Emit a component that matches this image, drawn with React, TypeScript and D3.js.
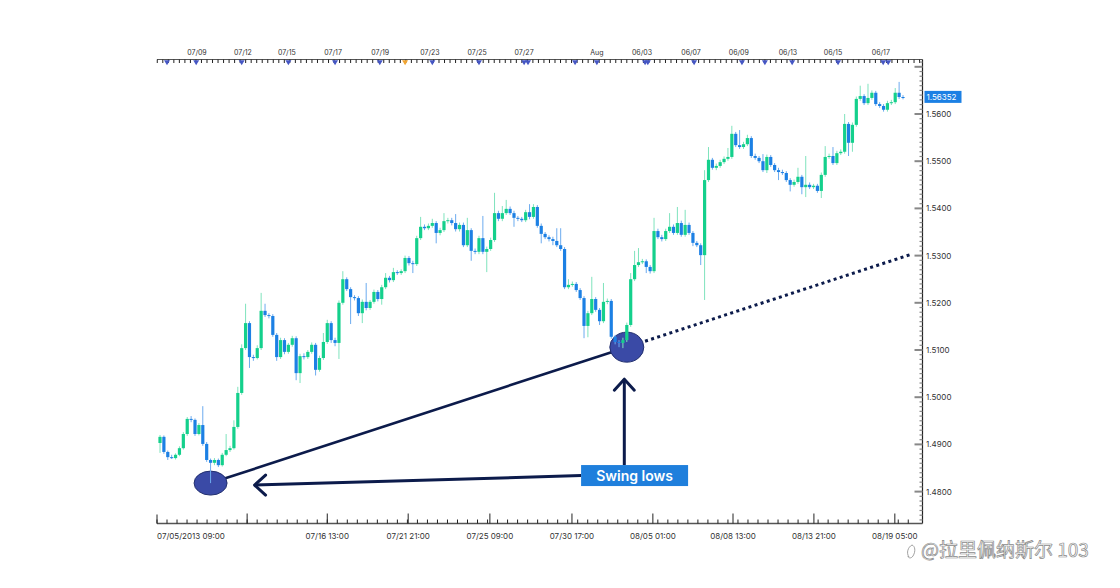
import React from 'react';
import * as d3 from 'd3';

// ---- data ----
const firstOpen = 1.4903;
const closes = [
  1.4916,1.4884,1.4873,1.4871,1.4878,1.4892,1.4922,1.4954,1.4952,1.4922,
  1.4941,1.4901,1.4867,1.4861,1.4867,1.4856,1.4878,1.4888,1.4892,1.4937,
  1.5009,1.5104,1.5157,1.5085,1.5083,1.5104,1.5183,1.5174,1.5172,1.5132,
  1.5085,1.5121,1.5096,1.5111,1.5125,1.5051,1.5087,1.5085,1.5096,1.5111,
  1.5058,1.5083,1.5117,1.5157,1.5121,1.5115,1.5200,1.5250,1.5229,1.5212,
  1.5210,1.5178,1.5202,1.5189,1.5202,1.5223,1.5208,1.5233,1.5253,1.5248,
  1.5265,1.5263,1.5267,1.5295,1.5284,1.5282,1.5337,1.5361,1.5358,1.5363,
  1.5369,1.5348,1.5354,1.5373,1.5375,1.5369,1.5356,1.5365,1.5322,1.5354,
  1.5310,1.5308,1.5337,1.5308,1.5314,1.5333,1.5390,1.5378,1.5390,1.5399,
  1.5390,1.5380,1.5378,1.5375,1.5392,1.5382,1.5403,1.5363,1.5346,1.5339,
  1.5335,1.5331,1.5322,1.5314,1.5233,1.5238,1.5240,1.5227,1.5210,1.5151,
  1.5178,1.5208,1.5185,1.5161,1.5202,1.5204,1.5128,1.5117,1.5115,1.5121,
  1.5153,1.5250,1.5280,1.5286,1.5288,1.5276,1.5267,1.5352,1.5339,1.5335,
  1.5352,1.5361,1.5348,1.5369,1.5344,1.5365,1.5348,1.5327,1.5322,1.5301,
  1.5460,1.5503,1.5486,1.5490,1.5498,1.5505,1.5509,1.5558,1.5534,1.5530,
  1.5536,1.5549,1.5511,1.5507,1.5500,1.5481,1.5509,1.5492,1.5481,1.5477,
  1.5475,1.5460,1.5450,1.5456,1.5467,1.5445,1.5450,1.5445,1.5448,1.5437,
  1.5471,1.5509,1.5511,1.5496,1.5517,1.5520,1.5579,1.5539,1.5577,1.5632,
  1.5638,1.5623,1.5634,1.5645,1.5621,1.5617,1.5609,1.5623,1.5625,1.5645,
  1.5636,1.56352,
];
const highs = [
  1.4920,1.4919,1.4887,1.4878,1.4881,1.4896,1.4926,1.4958,1.4960,1.4955,
  1.4945,1.4981,1.4905,1.4870,1.4871,1.4870,1.4882,1.4922,1.4897,1.4951,
  1.5022,1.5112,1.5198,1.5161,1.5090,1.5110,1.5221,1.5198,1.5178,1.5176,
  1.5136,1.5126,1.5125,1.5115,1.5130,1.5129,1.5092,1.5093,1.5100,1.5116,
  1.5115,1.5088,1.5136,1.5164,1.5161,1.5126,1.5205,1.5267,1.5254,1.5233,
  1.5216,1.5214,1.5207,1.5242,1.5206,1.5228,1.5227,1.5238,1.5263,1.5257,
  1.5274,1.5269,1.5271,1.5300,1.5299,1.5289,1.5342,1.5382,1.5366,1.5368,
  1.5378,1.5373,1.5359,1.5390,1.5380,1.5380,1.5388,1.5370,1.5370,1.5380,
  1.5358,1.5315,1.5342,1.5384,1.5319,1.5338,1.5433,1.5395,1.5405,1.5418,
  1.5404,1.5395,1.5384,1.5382,1.5397,1.5409,1.5409,1.5407,1.5368,1.5350,
  1.5343,1.5340,1.5358,1.5358,1.5318,1.5250,1.5245,1.5244,1.5231,1.5214,
  1.5183,1.5255,1.5212,1.5189,1.5242,1.5209,1.5208,1.5132,1.5121,1.5126,
  1.5158,1.5263,1.5310,1.5316,1.5293,1.5292,1.5280,1.5380,1.5357,1.5344,
  1.5357,1.5390,1.5366,1.5403,1.5374,1.5397,1.5370,1.5352,1.5331,1.5326,
  1.5481,1.5530,1.5507,1.5495,1.5503,1.5510,1.5528,1.5575,1.5562,1.5566,
  1.5541,1.5556,1.5553,1.5516,1.5511,1.5515,1.5514,1.5513,1.5496,1.5486,
  1.5482,1.5479,1.5464,1.5461,1.5486,1.5471,1.5511,1.5455,1.5452,1.5452,
  1.5476,1.5532,1.5516,1.5530,1.5522,1.5525,1.5600,1.5583,1.5582,1.5637,
  1.5660,1.5642,1.5664,1.5650,1.5649,1.5625,1.5621,1.5628,1.5630,1.5655,
  1.5668,1.5640,
];
const lows = [
  1.4882,1.4880,1.4867,1.4869,1.4868,1.4875,1.4889,1.4918,1.4947,1.4918,
  1.4919,1.4897,1.4863,1.4818,1.4856,1.4852,1.4853,1.4875,1.4884,1.4889,
  1.4933,1.5005,1.5100,1.5062,1.5077,1.5080,1.5100,1.5170,1.5167,1.5128,
  1.5077,1.5081,1.5091,1.5092,1.5107,1.5036,1.5030,1.5080,1.5081,1.5092,
  1.5046,1.5054,1.5079,1.5113,1.5115,1.5108,1.5081,1.5196,1.5225,1.5155,
  1.5205,1.5172,1.5157,1.5184,1.5185,1.5198,1.5203,1.5196,1.5229,1.5243,
  1.5244,1.5259,1.5259,1.5263,1.5279,1.5263,1.5278,1.5333,1.5354,1.5354,
  1.5359,1.5326,1.5343,1.5350,1.5368,1.5364,1.5351,1.5351,1.5318,1.5318,
  1.5289,1.5303,1.5303,1.5303,1.5265,1.5310,1.5329,1.5373,1.5373,1.5386,
  1.5386,1.5361,1.5373,1.5371,1.5371,1.5377,1.5378,1.5359,1.5326,1.5335,
  1.5330,1.5322,1.5318,1.5310,1.5229,1.5229,1.5234,1.5223,1.5206,1.5125,
  1.5127,1.5174,1.5181,1.5153,1.5157,1.5197,1.5124,1.5112,1.5106,1.5104,
  1.5117,1.5149,1.5246,1.5276,1.5282,1.5263,1.5262,1.5263,1.5335,1.5330,
  1.5331,1.5348,1.5344,1.5344,1.5340,1.5340,1.5344,1.5320,1.5318,1.5280,
  1.5206,1.5456,1.5482,1.5481,1.5486,1.5494,1.5501,1.5505,1.5530,1.5526,
  1.5526,1.5532,1.5507,1.5503,1.5496,1.5477,1.5475,1.5488,1.5477,1.5460,
  1.5471,1.5456,1.5436,1.5446,1.5452,1.5430,1.5424,1.5441,1.5441,1.5433,
  1.5422,1.5467,1.5505,1.5492,1.5492,1.5513,1.5516,1.5511,1.5520,1.5573,
  1.5628,1.5619,1.5619,1.5630,1.5617,1.5613,1.5605,1.5605,1.5619,1.5621,
  1.5632,1.5631,
];

// top axis labels (positions in candle index units)
const topLabels = ['07/09','07/12','07/15','07/17','07/19','07/23','07/25','07/27','Aug','06/03','06/07','06/09','06/13','06/15','06/17'];
const topLabelPos = [9.5,21.3,32.6,44.5,56.6,69.4,81.5,93.6,112.3,123.9,136.5,148.8,161.4,173,185.3];
// event markers on top axis
const eventPos = [1.8,9.3,21,33,45,56.5,63,70,82,93.6,94.6,106.7,112.3,124.7,125.4,137.3,149.6,155.5,162.5,174.3,185.9,187.2];
const eventKind = ['b','b','b','b','b','b','o','b','b','b','b','b','b','b','b','b','b','b','b','b','b','b'];

// bottom axis
const bottomFirstLabel = '07/05/2013 09:00';
const bottomLabels = ['','07/16 13:00','07/21 21:00','07/25 09:00','07/30 17:00','08/05 01:00','08/08 13:00','08/13 21:00','08/19 05:00'];
const bottomPos = [22.4,43,63.8,84.8,105.9,126.7,147.3,168.1,188.9];

// price axis labels
const priceTicks = [1.48,1.49,1.50,1.51,1.52,1.53,1.54,1.55,1.56];

// swing lows (candle index, price) and trend extension end
const swingIdx = [13, 120];
const swingPrice = [1.4818, 1.5106];
const trendEndIdx = 193.3;
const calloutText = 'Swing lows';
const calloutIdx = 122;
const calloutPrice = 1.4834;

const GREEN = '#14d08c';
const BLUE = '#1c80e4';
const GREEN_W = '#7fe3bd';
const BLUE_W = '#6cabef';
const NAVY = '#0c1b4b';
const AXIS = '#555';
const FONT = 'Inter, "Open Sans", sans-serif';

export default function App() {
  const N = closes.length;
  const x = d3.scaleLinear().domain([0, N - 1]).range([160, 903]);
  const y = d3.scaleLinear().domain([1.48, 1.56]).range([491.6, 114]);
  const axL = 157, axR = 922.5, axT = 59.5, axB = 523.5;

  const candles = closes.map((c, i) => {
    const o = i === 0 ? firstOpen : closes[i - 1];
    const up = c >= o;
    const top = y(Math.max(o, c));
    const bot = y(Math.min(o, c));
    return {
      i, up,
      cx: x(i),
      top, h: Math.max(1, bot - top),
      hy: y(Math.max(highs[i], o, c)),
      ly: y(Math.min(lows[i], o, c)),
    };
  });

  // right axis ticks
  const pMin = y.invert(axB), pMax = y.invert(axT + 2);
  const kStart = Math.ceil(pMin * 1000), kEnd = Math.floor(pMax * 1000);
  const rTicks = d3.range(kStart, kEnd + 1).map(k => ({ k, v: k / 1000 }));

  // top ticks
  const topTicks = d3.range(-0.7, N + 4, 1.42).filter(v => x(v) >= axL && x(v) <= axR - 2);

  // bottom minor ticks
  const step = (bottomPos[1] - bottomPos[0]) / 8;
  const bMinor = d3.range(bottomPos[0] - 9 * step, N + 2, step).filter(v => x(v) >= axL - 1 && x(v) <= axR - 2);

  const fmt = d3.format('.4f');
  const last = closes[N - 1];
  const lastY = y(last);

  const s1x = x(swingIdx[0]), s1y = y(swingPrice[0]);
  const s2x = x(swingIdx[1]), s2y = y(swingPrice[1]);
  const slope = (s2y - s1y) / (s2x - s1x);
  const endX = x(trendEndIdx);
  const endY = s2y + slope * (endX - s2x);

  const cX = x(calloutIdx), cY = y(calloutPrice);
  const boxW = 107, boxH = 21;
  const boxL = cX - boxW / 2;

  // horizontal arrow tip (left) and vertical arrow tip (up)
  const hTipX = s1x + 44, hTipY = s1y + 2;
  const vX = s2x - 2.5, vTipY = s2y + 32;

  return (
    <svg width={1120} height={588} style={{ position: 'fixed', left: 0, top: 0, background: '#fff' }}>
      {/* top axis */}
      <line x1={axL} x2={axR} y1={axT} y2={axT} stroke={AXIS} strokeWidth={1.2} />
      {topTicks.map((v, j) => (
        <line key={'tt' + j} x1={x(v)} x2={x(v)} y1={axT} y2={axT + 3.5} stroke="#222" strokeWidth={1} />
      ))}
      {topLabels.map((t, j) => (
        <text key={'tl' + j} x={x(topLabelPos[j])} y={axT - 5} fontSize={7} fontFamily={FONT} fill="#333" textAnchor="middle">{t}</text>
      ))}
      {eventPos.map((p, j) => (
        <path key={'ev' + j} d="M-3,0 L3,0 L0,5 Z" transform={`translate(${x(p)},${axT + 0.8})`}
          fill={eventKind[j] === 'o' ? '#f2a531' : '#4556c4'} />
      ))}

      {/* right axis */}
      <line x1={axR} x2={axR} y1={axT} y2={axB} stroke="#222" strokeWidth={1.2} />
      {rTicks.map(({ k, v }) => {
        const len = k % 10 === 0 ? 8 : 3;
        return <line key={'rt' + k} x1={axR - len} x2={axR} y1={y(v)} y2={y(v)} stroke="#888" strokeWidth={k % 10 === 0 ? 2 : 1.2} />;
      })}
      {priceTicks.map(p => (
        <text key={'pl' + p} x={axR + 3.5} y={y(p) + 3} fontSize={8} fontFamily={FONT} fill="#333">{fmt(p)}</text>
      ))}

      {/* bottom axis */}
      <line x1={axL} x2={axR} y1={axB} y2={axB} stroke={AXIS} strokeWidth={1.5} />
      {bMinor.map((v, j) => (
        <line key={'bm' + j} x1={x(v)} x2={x(v)} y1={axB} y2={axB - 4} stroke="#222" strokeWidth={1} />
      ))}
      <line x1={axL} x2={axL} y1={axB} y2={axB - 9} stroke="#222" strokeWidth={1} />
      {bottomPos.map((p, j) => (
        <line key={'bM' + j} x1={x(p)} x2={x(p)} y1={axB} y2={axB - 10} stroke="#222" strokeWidth={1} />
      ))}
      <text x={axL} y={axB + 15} fontSize={8} fontFamily={FONT} fill="#333">{bottomFirstLabel}</text>
      {bottomLabels.map((t, j) => t ? (
        <text key={'bl' + j} x={x(bottomPos[j])} y={axB + 15} fontSize={8} fontFamily={FONT} fill="#333" textAnchor="middle">{t}</text>
      ) : null)}

      {/* trend line */}
      <line x1={s1x} y1={s1y} x2={s2x} y2={s2y} stroke={NAVY} strokeWidth={2.6} />
      <line x1={s2x} y1={s2y} x2={endX} y2={endY} stroke={NAVY} strokeWidth={3} strokeDasharray="3 3.4" />

      {/* swing low ellipses */}
      <ellipse cx={s1x} cy={s1y} rx={16.5} ry={12} fill="#3a4aa6" stroke="#23306f" strokeWidth={1} />
      <ellipse cx={s2x} cy={s2y} rx={17} ry={15} fill="#3a4aa6" stroke="#23306f" strokeWidth={1} />

      {/* candles */}
      {candles.map(c => (
        <g key={'c' + c.i}>
          <line x1={c.cx} x2={c.cx} y1={c.hy} y2={c.ly} stroke={c.up ? GREEN_W : BLUE_W} strokeWidth={1} />
          <rect x={c.cx - 1.6} y={c.top} width={3.2} height={c.h} fill={c.up ? GREEN : BLUE} />
        </g>
      ))}

      {/* last price tag */}
      <rect x={axR + 2} y={lastY - 6.5} width={37} height={12} fill="#1c80e4" />
      <text x={axR + 4} y={lastY + 3} fontSize={8} fontFamily={FONT} fill="#fff">{d3.format('.5f')(last)}</text>

      {/* arrows */}
      <line x1={boxL} y1={cY} x2={hTipX} y2={hTipY} stroke={NAVY} strokeWidth={3} />
      <polyline points={`${hTipX + 11},${hTipY - 10} ${hTipX},${hTipY} ${hTipX + 11},${hTipY + 10}`} fill="none" stroke={NAVY} strokeWidth={3} strokeLinecap="round" strokeLinejoin="round" />
      <line x1={vX} y1={cY - boxH / 2} x2={vX} y2={vTipY} stroke={NAVY} strokeWidth={3} />
      <polyline points={`${vX - 10},${vTipY + 11} ${vX},${vTipY} ${vX + 10},${vTipY + 11}`} fill="none" stroke={NAVY} strokeWidth={3} strokeLinecap="round" strokeLinejoin="round" />

      {/* callout */}
      <rect x={boxL} y={cY - boxH / 2} width={boxW} height={boxH} fill="#1f7fdc" />
      <text x={cX} y={cY + 5} fontSize={14} fontWeight={600} fontFamily={FONT} fill="#fff" textAnchor="middle">{calloutText}</text>

      {/* watermark */}
      <text x={921} y={557} fontSize={19} fontFamily='"Noto Sans CJK SC", sans-serif' fill="#fff" stroke="#8a8a8a" strokeWidth={0.7}>@拉里佩纳斯尔 103</text>
      <path d="M912,545 c-4,2 -6,8 -3,12 M912,545 c3,1 4,6 1,11 c-2,3 -5,2 -5,0" fill="none" stroke="#8a8a8a" strokeWidth={0.8} />
    </svg>
  );
}
